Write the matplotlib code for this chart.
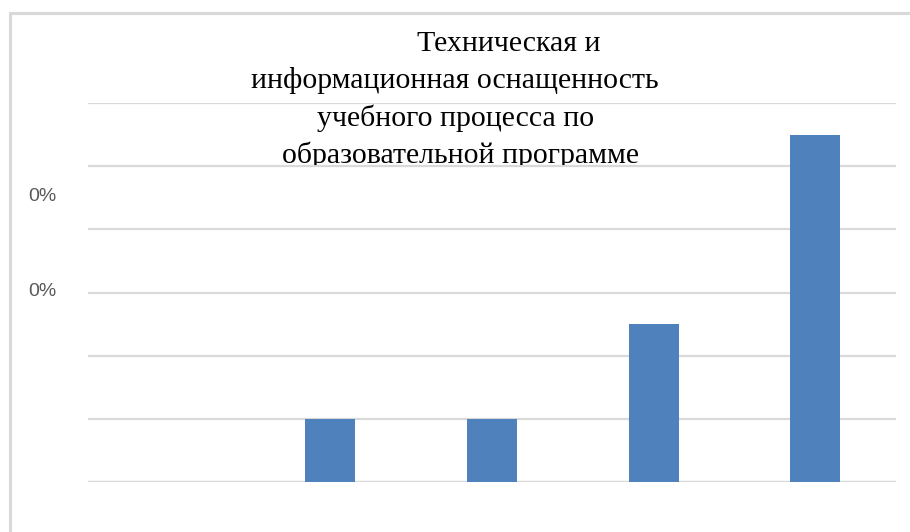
import matplotlib
matplotlib.use("Agg")
import matplotlib.pyplot as plt
from matplotlib.patches import Rectangle
from matplotlib.ticker import PercentFormatter, MultipleLocator
from matplotlib.transforms import Bbox, ScaledTranslation

# Data
categories = ["1", "2", "3", "4", "5"]
values = [0.0, 0.001, 0.001, 0.0025, 0.0055]
tick_positions = [0.003, 0.0045]
title_lines = ["Техническая и", "информационная оснащенность",
               "учебного процесса по", "образовательной программе"]

W, H = 910, 532
fig = plt.figure(figsize=(W / 100, H / 100), dpi=100)
fig.patch.set_facecolor("white")

# Outer chart border (light gray, partially visible)
fig.add_artist(Rectangle((9.5 / W, -0.1), 1.2, (H - 13) / H + 0.1,
                         transform=fig.transFigure, fill=False,
                         edgecolor="#d9d9d9", lw=2.2))

ax = fig.add_axes([88 / W, 50 / H, (896 - 88) / W, (482 - 103) / H])
x = list(range(len(categories)))
ax.bar(x, values, width=0.31, color="#4f81bd", zorder=3)

ax.set_xlim(-0.5, len(categories) - 0.5)
ax.set_ylim(0, 0.006)
ax.yaxis.set_minor_locator(MultipleLocator(0.001))
ax.yaxis.remove_overlapping_locs = False
ax.set_yticks(tick_positions)
ax.yaxis.set_major_formatter(PercentFormatter(xmax=1, decimals=0))
ax.grid(False)
ax.grid(True, which="minor", axis="y", color="#d9d9d9", lw=1.6, zorder=0)
ax.tick_params(axis="y", which="both", length=0, pad=23, labelsize=14,
               labelcolor="#595959")
off = ScaledTranslation(0, 3 / 100, fig.dpi_scale_trans)
for lab in ax.get_yticklabels():
    lab.set_fontfamily("Liberation Sans")
    lab.set_transform(lab.get_transform() + off)
ax.set_xticks([])
for s in ax.spines.values():
    s.set_visible(False)
ax.axhline(0, color="#d9d9d9", lw=1.6, zorder=2)

# Title (clipped at the bottom, as in the reference)
line_x = [509, 455, 456, 461]
line_y = [44, 81, 118, 155]
clip = Bbox.from_extents(0, H - 165, W, H)
for t, xx, yy in zip(title_lines, line_x, line_y):
    txt = fig.text(xx / W, 1 - yy / H, t, ha="center", va="center",
                   fontsize=21.5, family="Liberation Serif", color="#000000")
    txt.set_clip_on(True)
    txt.set_clip_box(clip)

fig.savefig("out.png", dpi=100, facecolor="white")
